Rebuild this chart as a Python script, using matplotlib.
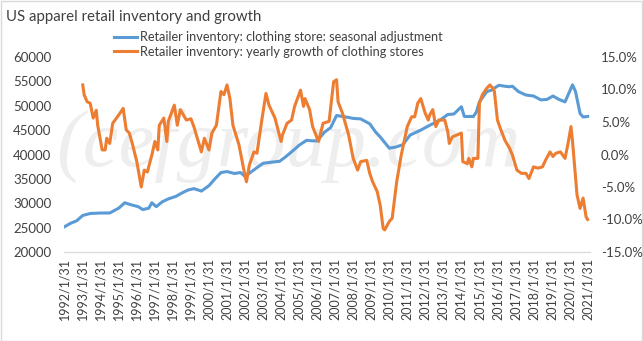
import matplotlib
matplotlib.use("Agg")
import matplotlib.pyplot as plt
import matplotlib.patches as mpatches
import pandas as pd

plt.rcParams['font.family'] = ['Lato', 'DejaVu Sans']

# retailer inventory, clothing stores, seasonally adjusted (left axis)
inv_month = ["1992-01", "1992-05", "1992-09", "1993-01", "1993-06", "1994-01", "1994-07",
             "1995-01", "1995-05", "1995-09", "1996-02", "1996-05", "1996-09", "1996-11",
             "1997-02", "1997-06", "1997-10", "1998-03", "1998-07", "1998-11", "1999-03",
             "1999-08", "2000-01", "2000-05", "2000-09", "2001-01", "2001-06", "2001-10",
             "2002-01", "2002-05", "2002-09", "2003-01", "2003-06", "2003-12", "2004-04",
             "2004-09", "2005-01", "2005-06", "2005-10", "2006-01", "2006-06", "2006-10",
             "2007-02", "2007-06", "2007-10", "2008-01", "2008-06", "2008-12", "2009-04",
             "2009-07", "2010-01", "2010-05", "2010-10", "2011-03", "2011-10", "2012-04",
             "2012-11", "2013-04", "2013-08", "2014-01", "2014-03", "2014-09", "2014-11",
             "2015-01", "2015-06", "2015-09", "2016-02", "2016-06", "2016-09", "2016-11",
             "2017-03", "2017-08", "2018-01", "2018-06", "2018-10", "2019-02", "2019-06",
             "2019-10", "2020-01", "2020-03", "2020-05", "2020-08", "2020-10", "2021-01"]
inv_value = [25200, 25900, 26400, 27500, 27900, 28000, 28000,
             29000, 30100, 29700, 29300, 28700, 29000, 30100,
             29300, 30300, 30900, 31400, 32100, 32700, 33000,
             32500, 33600, 35000, 36300, 36500, 36100, 36300,
             35500, 36400, 37300, 38200, 38400, 38600, 39500,
             40800, 41900, 42900, 42800, 42800, 44600, 45500,
             48000, 47800, 47600, 47400, 47300, 46300, 44600,
             43600, 41300, 41500, 42000, 44000, 45000, 46000,
             47100, 48200, 48300, 49800, 47800, 47800, 48700,
             50800, 52900, 53200, 54200, 54000, 53900, 54000,
             52900, 52200, 52000, 51200, 51300, 52000, 51300,
             50800, 52900, 54300, 52900, 48400, 47700, 47800]

# yearly growth of clothing store inventory, % (right axis)
growth_month = ["1993-01", "1993-02", "1993-04", "1993-06", "1993-08", "1993-10", "1993-11",
                "1994-02", "1994-04", "1994-05", "1994-07", "1994-09", "1995-01", "1995-04",
                "1995-06", "1995-08", "1995-10", "1996-01", "1996-04", "1996-06", "1996-08",
                "1996-11", "1997-01", "1997-03", "1997-04", "1997-07", "1997-09", "1997-10",
                "1998-02", "1998-04", "1998-06", "1998-10", "1999-01", "1999-03", "1999-08",
                "1999-10", "2000-01", "2000-03", "2000-06", "2000-09", "2000-11", "2001-01",
                "2001-03", "2001-05", "2001-07", "2001-09", "2001-12", "2002-02", "2002-04",
                "2002-07", "2002-09", "2002-12", "2003-03", "2003-05", "2003-09", "2004-01",
                "2004-02", "2004-05", "2004-08", "2004-10", "2005-02", "2005-04", "2005-05",
                "2005-08", "2005-10", "2006-02", "2006-05", "2006-09", "2006-12", "2007-02",
                "2007-03", "2007-06", "2007-10", "2008-01", "2008-04", "2008-06", "2008-10",
                "2008-12", "2009-02", "2009-05", "2009-07", "2009-09", "2009-10", "2010-01",
                "2010-03", "2010-06", "2010-09", "2011-01", "2011-04", "2011-06", "2011-08",
                "2011-10", "2012-01", "2012-03", "2012-04", "2012-06", "2012-08", "2012-10",
                "2013-02", "2013-04", "2013-05", "2013-07", "2014-01", "2014-02", "2014-05",
                "2014-06", "2014-08", "2014-09", "2014-12", "2015-01", "2015-03", "2015-06",
                "2015-08", "2015-10", "2015-11", "2016-01", "2016-03", "2016-06", "2016-09",
                "2016-11", "2017-02", "2017-05", "2017-08", "2017-10", "2018-01", "2018-04",
                "2018-07", "2018-09", "2018-12", "2019-02", "2019-04", "2019-07", "2019-10",
                "2019-12", "2020-02", "2020-03", "2020-06", "2020-08", "2020-10", "2020-12",
                "2021-01"]
growth_value = [10.7, 9.2, 8.1, 7.9, 5.6, 6.8, 4.5,
                0.7, 0.7, 2.5, 1.7, 4.8, 6.1, 7.1,
                3.8, 3.3, 1.7, -1.1, -5.0, -2.4, -2.7,
                -0.1, 2.0, 0.7, 4.5, 5.6, 2.0, 5.1,
                7.6, 4.5, 6.9, 5.3, 5.5, 4.3, 0.4,
                2.5, 0.7, 3.3, 4.5, 9.7, 9.2, 10.7,
                8.6, 4.5, 3.0, 1.5, -2.1, -4.2, -1.6,
                0.4, 0.2, 5.0, 9.4, 7.6, 5.6, 2.0,
                3.0, 4.8, 5.3, 7.4, 9.9, 7.4, 8.6,
                6.9, 4.3, 2.0, 4.8, 5.1, 11.2, 11.5,
                8.1, 6.3, 3.0, -0.6, -2.4, -1.1, -0.9,
                -2.9, -4.2, -5.7, -7.8, -11.4, -11.6, -10.3,
                -9.8, -4.2, -0.1, 4.3, 5.8, 5.8, 7.9,
                8.6, 6.3, 5.3, 6.1, 6.9, 4.3, 5.3,
                5.3, 3.5, 1.7, 2.7, 3.3, -1.1, -1.4,
                -0.6, -1.9, -0.6, -0.6, 7.9, 9.2, 10.2,
                10.7, 10.2, 9.7, 5.3, 4.0, 2.2, 1.0,
                -0.1, -2.4, -2.9, -2.9, -3.7, -1.9, -2.1,
                -1.9, -0.9, 0.4, -0.3, 0.2, 0.4, -0.6,
                1.7, 4.3, 2.0, -6.2, -8.3, -6.7, -9.6,
                -10.0]

years = list(range(1992, 2022))
inv_label = "Retailer inventory: clothing store: seasonal adjustment"
growth_label = "Retailer inventory: yearly growth of clothing stores"

blue = "#5B9BD5"
orange = "#ED7D31"
label_color = "#404040"

fig = plt.figure(figsize=(6.43, 3.41), dpi=100)
ax = fig.add_axes([64/643, 1 - 252/341, (590 - 64)/643, (252 - 57)/341])
ax2 = ax.twinx()

# watermark
fig.text(56/643, 1 - 166/341, "(cefgroup.com", family="Liberation Serif", style="italic",
         fontsize=58, color="#eeeeee", va="baseline", ha="left", zorder=0)
ax.set_zorder(1)
ax2.set_zorder(2)
ax.patch.set_visible(False)
ax2.patch.set_visible(False)

inv_dates = pd.to_datetime(inv_month) + pd.offsets.MonthEnd(0)
growth_dates = pd.to_datetime(growth_month) + pd.offsets.MonthEnd(0)

l1, = ax.plot(inv_dates, inv_value, color=blue, lw=2.2, solid_joinstyle="round")
l2, = ax2.plot(growth_dates, growth_value, color=orange, lw=2.2, solid_joinstyle="round")

ax.set_ylim(20000, 60000)
ax.set_yticks(range(20000, 60001, 5000))
ax2.set_ylim(-15, 15)
ax2.set_yticks(range(-15, 16, 5))
ax2.set_yticklabels([f"{v:.1f}%" for v in range(-15, 16, 5)])

ticks = [pd.Timestamp(f"{y}-01-31") for y in years]
ax.set_xticks(ticks)
ax.set_xticklabels([f"{y}/1/31" for y in years], rotation=90)
ax.set_xlim(pd.Timestamp("1992-01-17"), pd.Timestamp("2021-03-20"))

for a in (ax, ax2):
    for s in ("top", "left", "right"):
        a.spines[s].set_visible(False)
    a.spines["bottom"].set_color("#d9d9d9")
    a.spines["bottom"].set_linewidth(0.8)
    a.tick_params(length=0, labelsize=9.5, colors=label_color)
ax.tick_params(axis="y", pad=9)
ax2.tick_params(axis="y", pad=8)
ax.tick_params(axis="x", pad=4, labelsize=9)

fig.text(6/643, 1 - 17/341, "US apparel retail inventory and growth", fontsize=10.8,
         color=label_color, va="center", ha="left")

fig.legend([l1, l2], [inv_label, growth_label], loc="upper left",
           bbox_to_anchor=(114/643, 1 - 31/341), frameon=False, fontsize=9.2,
           handlelength=1.8, handletextpad=0.2, labelspacing=0.2,
           borderpad=0, borderaxespad=0, labelcolor=label_color)

fig.patches.append(mpatches.Rectangle((0.5/643, 0.5/341), 1 - 1.5/643, 1 - 1.5/341,
                                      transform=fig.transFigure, fill=False,
                                      edgecolor="#d9d9d9", lw=1))

fig.savefig("out.png", dpi=100)
